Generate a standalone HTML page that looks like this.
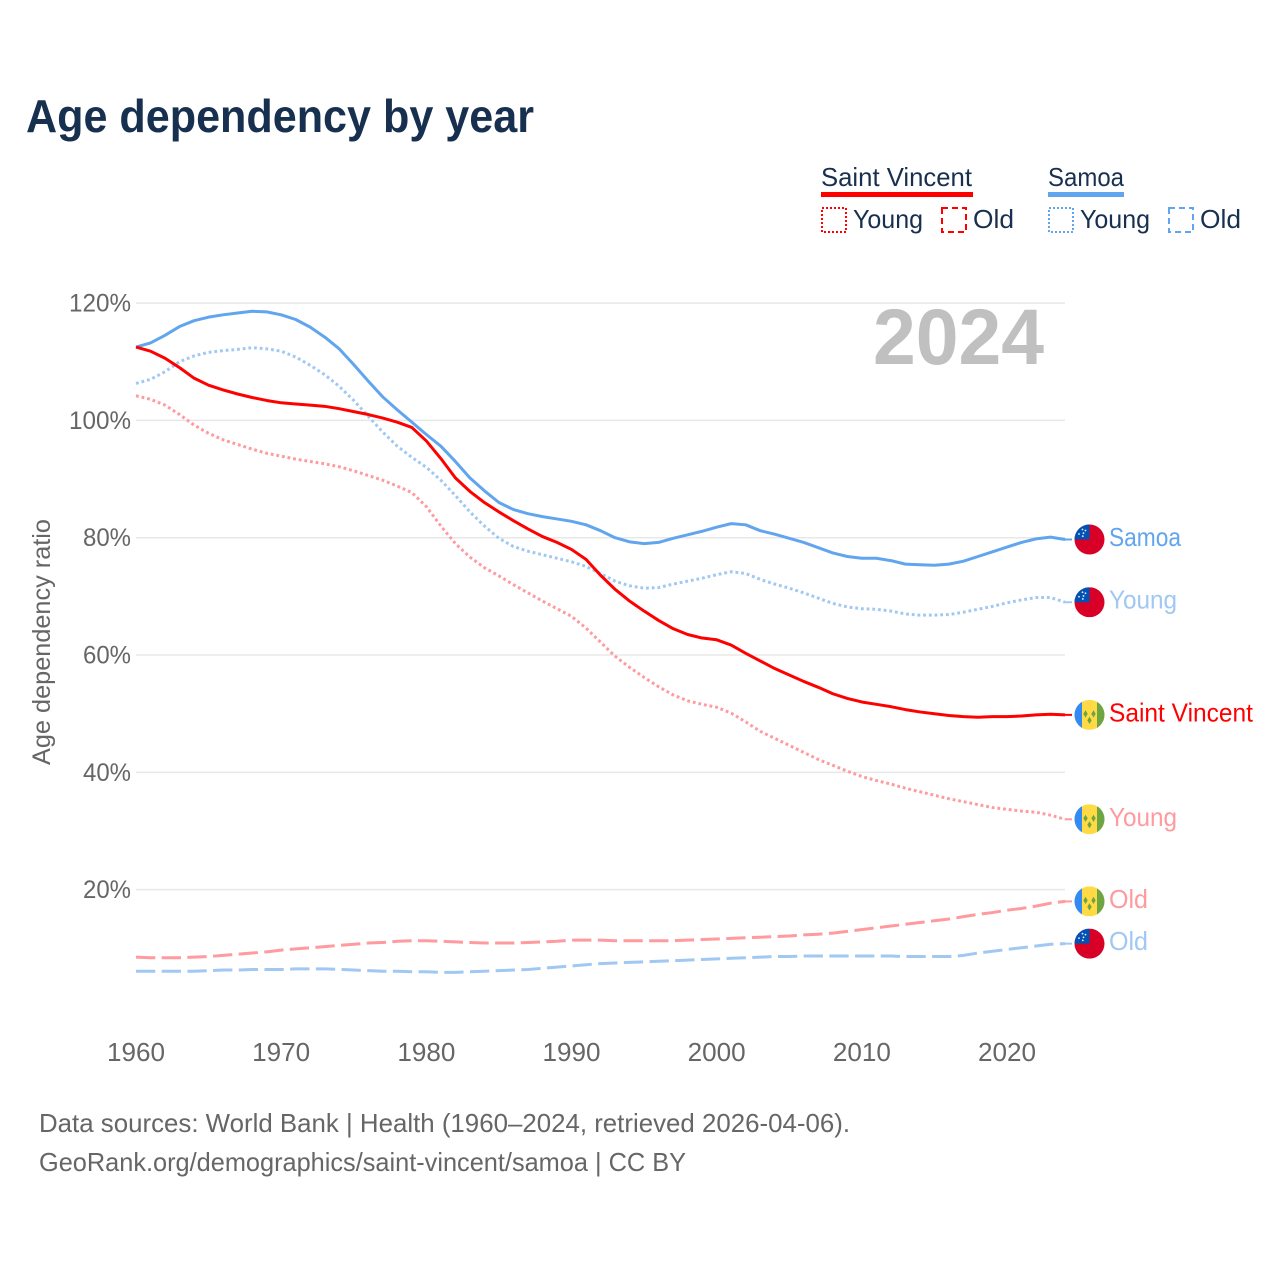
<!DOCTYPE html>
<html lang="en">
<head>
<meta charset="utf-8">
<title>Age dependency by year</title>
<style>
html,body{margin:0;padding:0;background:#fff}
svg{display:block}
text{font-family:"Liberation Sans",sans-serif}
</style>
</head>
<body>
<svg id="chart" xmlns="http://www.w3.org/2000/svg" width="1280" height="1280" viewBox="0 0 1280 1280">
  <defs>
    <clipPath id="flag-clip"><circle cx="0" cy="0" r="15"></circle></clipPath>
  </defs>
  <rect x="0" y="0" width="1280" height="1280" fill="#ffffff"></rect>
  <text x="26" y="132" font-size="46" font-weight="700" fill="#18304f" textLength="508" lengthAdjust="spacingAndGlyphs">Age dependency by year</text>

  <g>
    <g>
      <text x="821" y="186" font-size="26" fill="#18304f" textLength="151" lengthAdjust="spacingAndGlyphs">Saint Vincent</text>
      <rect x="821" y="192" width="152" height="5" fill="#ff0000"></rect>
      <rect x="822" y="208" width="24" height="24" fill="none" stroke="#ff0000" stroke-width="2" stroke-dasharray="2 2"></rect>
      <text x="853" y="228" font-size="26" fill="#18304f" textLength="70" lengthAdjust="spacingAndGlyphs">Young</text>
      <rect x="942" y="208" width="24" height="24" fill="none" stroke="#ff0000" stroke-width="2" stroke-dasharray="6 4"></rect>
      <text x="973" y="228" font-size="26" fill="#18304f" textLength="41" lengthAdjust="spacingAndGlyphs">Old</text>
    </g>
    <g>
      <text x="1048" y="186" font-size="26" fill="#18304f" textLength="76" lengthAdjust="spacingAndGlyphs">Samoa</text>
      <rect x="1048" y="192" width="76" height="5" fill="#60a5ee"></rect>
      <rect x="1049" y="208" width="24" height="24" fill="none" stroke="#60a5ee" stroke-width="2" stroke-dasharray="2 2"></rect>
      <text x="1080" y="228" font-size="26" fill="#18304f" textLength="70" lengthAdjust="spacingAndGlyphs">Young</text>
      <rect x="1169" y="208" width="24" height="24" fill="none" stroke="#60a5ee" stroke-width="2" stroke-dasharray="6 4"></rect>
      <text x="1200" y="228" font-size="26" fill="#18304f" textLength="41" lengthAdjust="spacingAndGlyphs">Old</text>
    </g>
  </g>

  <g id="grid"></g>
  <g id="y-axis"></g>
  <g id="x-axis"></g>
  <text transform="translate(50 765) rotate(-90)" x="0" y="0" font-size="25" fill="#666666" textLength="246" lengthAdjust="spacingAndGlyphs">Age dependency ratio</text>
  <text x="873" y="364" font-size="79" font-weight="700" fill="#c0c0c0" textLength="171" lengthAdjust="spacingAndGlyphs">2024</text>
  <g id="series"></g>
  <g id="end-labels"></g>

  <text x="39" y="1132" font-size="26" fill="#666666" textLength="811" lengthAdjust="spacingAndGlyphs">Data sources: World Bank | Health (1960–2024, retrieved 2026-04-06).</text>
  <text x="39" y="1171" font-size="26" fill="#666666" textLength="647" lengthAdjust="spacingAndGlyphs">GeoRank.org/demographics/saint-vincent/samoa | CC BY</text>
</svg>

<script>
const startYear = 1960;
const xTicks = [1960, 1970, 1980, 1990, 2000, 2010, 2020];
const yTicks = [20, 40, 60, 80, 100, 120];

const samoaTotal = [112.5,113.2,114.5,116.0,117.0,117.6,118.0,118.3,118.6,118.5,118.0,117.2,115.9,114.2,112.2,109.5,106.7,104.0,101.8,99.7,97.6,95.6,93.0,90.2,88.0,86.0,84.8,84.1,83.6,83.2,82.8,82.2,81.2,80.0,79.3,79.0,79.2,79.9,80.5,81.1,81.8,82.4,82.2,81.2,80.6,79.9,79.2,78.3,77.4,76.8,76.5,76.5,76.1,75.5,75.4,75.3,75.5,76.0,76.8,77.6,78.4,79.2,79.8,80.1,79.7];
const samoaYoung = [106.3,107.0,108.3,110.0,111.0,111.6,111.9,112.1,112.4,112.2,111.8,110.8,109.4,107.8,105.8,103.4,100.7,98.0,95.6,93.7,92.0,89.8,87.2,84.4,82.0,79.9,78.5,77.7,77.1,76.5,75.9,75.1,73.9,72.6,71.8,71.4,71.5,72.1,72.6,73.1,73.7,74.2,73.9,72.9,72.1,71.4,70.6,69.7,68.8,68.2,67.9,67.8,67.5,67.0,66.8,66.8,66.9,67.3,67.8,68.3,68.9,69.4,69.8,69.8,69.0];
const samoaOld = [6.1,6.1,6.1,6.1,6.1,6.2,6.3,6.3,6.4,6.4,6.4,6.5,6.5,6.5,6.4,6.3,6.2,6.1,6.1,6.0,6.0,5.9,5.9,6.0,6.1,6.2,6.3,6.4,6.6,6.8,7.0,7.2,7.4,7.5,7.6,7.7,7.8,7.9,8.0,8.1,8.2,8.3,8.4,8.5,8.6,8.6,8.7,8.7,8.7,8.7,8.7,8.7,8.7,8.6,8.6,8.6,8.6,8.8,9.2,9.5,9.8,10.1,10.4,10.7,10.8];
const vincentTotal = [112.5,111.8,110.6,109.0,107.2,106.0,105.2,104.5,103.9,103.4,103.0,102.8,102.6,102.4,102.0,101.5,101.0,100.4,99.7,98.8,96.5,93.5,90.2,87.9,86.0,84.4,82.9,81.5,80.2,79.2,78.0,76.3,73.6,71.2,69.2,67.5,65.9,64.5,63.5,62.9,62.6,61.7,60.3,59.0,57.7,56.6,55.5,54.5,53.4,52.6,52.0,51.6,51.2,50.7,50.3,50.0,49.7,49.5,49.4,49.5,49.5,49.6,49.8,49.9,49.8];
const vincentYoung = [104.2,103.6,102.6,101.0,99.2,97.8,96.7,95.9,95.1,94.4,93.9,93.4,93.0,92.6,92.1,91.4,90.6,89.8,88.8,87.7,85.3,82.0,79.0,76.7,74.9,73.5,72.0,70.6,69.2,67.9,66.6,64.6,62.2,59.8,57.9,56.2,54.6,53.2,52.2,51.6,51.1,50.1,48.6,47.0,45.8,44.6,43.4,42.2,41.2,40.2,39.3,38.6,38.0,37.3,36.7,36.1,35.5,35.0,34.5,34.0,33.7,33.4,33.2,32.7,32.0];
const vincentOld = [8.5,8.4,8.4,8.4,8.5,8.6,8.8,9.0,9.2,9.4,9.7,9.9,10.1,10.3,10.5,10.7,10.9,11.0,11.2,11.3,11.3,11.2,11.1,11.0,10.9,10.9,10.9,11.0,11.1,11.2,11.4,11.4,11.4,11.3,11.3,11.3,11.3,11.3,11.4,11.5,11.6,11.7,11.8,11.9,12.0,12.1,12.3,12.4,12.6,12.9,13.2,13.5,13.8,14.1,14.4,14.7,15.0,15.4,15.8,16.1,16.5,16.8,17.2,17.7,18.0];

const NS = 'http://www.w3.org/2000/svg';
function xScale(year) { return 136 + (year - 1960) * (1007 - 136) / 60; }
function yScale(pct) { return 1007 - pct * 5.866; }
function make(tag, parent, attrs, content) {
  const el = document.createElementNS(NS, tag);
  for (const k in attrs) el.setAttribute(k, attrs[k]);
  if (content !== undefined) el.textContent = content;
  parent.appendChild(el);
  return el;
}

const grid = document.getElementById('grid');
const yAxis = document.getElementById('y-axis');
const xAxis = document.getElementById('x-axis');
const seriesLayer = document.getElementById('series');
const endLayer = document.getElementById('end-labels');

yTicks.forEach(function (t) {
  const y = yScale(t);
  const line = make('line', grid, {x1: 136, x2: 1065, y1: y, y2: y, stroke: '#e8e8e8', 'stroke-width': 1.5});
  
  
  const w = t >= 100 ? 62 : 48;
  const label = make('text', yAxis, {x: 131 - w, y: y + 8.5, 'font-size': 25, fill: '#666666', textLength: w, lengthAdjust: 'spacingAndGlyphs'}, t + '%');
  
  
});

xTicks.forEach(function (t) {
  const label = make('text', xAxis, {x: xScale(t) - 29, y: 1061, 'font-size': 26, fill: '#666666', textLength: 58, lengthAdjust: 'spacingAndGlyphs'}, String(t));
  
  
});

function drawLine(values, name, color, width, dash) {
  const pts = values.map(function (v, i) {
    return xScale(startYear + i).toFixed(2) + ',' + yScale(v).toFixed(2);
  }).join(' ');
  const attrs = {points: pts, fill: 'none', stroke: color, 'stroke-width': width, 'stroke-linejoin': 'round'};
  if (dash) attrs['stroke-dasharray'] = dash;
  const line = make('polyline', seriesLayer, attrs);
  
  
}

const BLUE = '#60a5ee', LBLUE = '#a0c8f2', RED = '#ff0000', LRED = '#ff9a9e';
drawLine(samoaOld, 'line-samoa-old', LBLUE, 3, '19.3 6.4');
drawLine(vincentOld, 'line-saint-vincent-old', LRED, 3, '19.3 6.4');
drawLine(vincentYoung, 'line-saint-vincent-young', LRED, 3, '2.8 2.9');
drawLine(samoaYoung, 'line-samoa-young', LBLUE, 3, '2.8 2.9');
drawLine(samoaTotal, 'line-samoa-total', BLUE, 3);
drawLine(vincentTotal, 'line-saint-vincent-total', RED, 3);

function drawSamoaFlag(g) {
  const clip = make('g', g, {'clip-path': 'url(#flag-clip)'});
  make('rect', clip, {x: -15, y: -15, width: 30, height: 30, fill: '#d80027'});
  make('rect', clip, {x: -15, y: -15, width: 15, height: 15, fill: '#0052b4'});
  [[-7, -10], [-4, -9], [-10.5, -5.5], [-6, -6.3], [-6.7, -3.3]].forEach(function (s) {
    make('circle', clip, {cx: s[0], cy: s[1], r: 0.9, fill: '#f0f0f0'});
  });
}
function drawVincentFlag(g) {
  const clip = make('g', g, {'clip-path': 'url(#flag-clip)'});
  make('rect', clip, {x: -15, y: -15, width: 30, height: 30, fill: '#ffda44'});
  make('rect', clip, {x: -15, y: -15, width: 7.5, height: 30, fill: '#338af3'});
  make('rect', clip, {x: 7.5, y: -15, width: 7.5, height: 30, fill: '#6da544'});
  [[-4, -1], [4, -1], [0, 5.5]].forEach(function (d) {
    make('polygon', clip, {points: d[0] + ',' + (d[1] - 3.6) + ' ' + (d[0] + 2.2) + ',' + d[1] + ' ' + d[0] + ',' + (d[1] + 3.6) + ' ' + (d[0] - 2.2) + ',' + d[1], fill: '#6da544'});
  });
}

function drawEnd(values, key, text, textWidth, color, thickness, drawFlag) {
  const y = yScale(values[values.length - 1]);
  const stub = make('line', endLayer, {x1: 1065, x2: 1072, y1: y, y2: y, stroke: color, 'stroke-width': thickness});
  
  
  const flag = make('g', endLayer, {transform: 'translate(1089.5 ' + y.toFixed(2) + ')'});
  
  
  drawFlag(flag);
  const label = make('text', endLayer, {x: 1109, y: y + 6.5, 'font-size': 26, fill: color, textLength: textWidth, lengthAdjust: 'spacingAndGlyphs'}, text);
  
  
}

drawEnd(samoaTotal, 'samoa-total', 'Samoa', 72, BLUE, 2, drawSamoaFlag);
drawEnd(samoaYoung, 'samoa-young', 'Young', 68, LBLUE, 2, drawSamoaFlag);
drawEnd(vincentTotal, 'saint-vincent-total', 'Saint Vincent', 144, RED, 2, drawVincentFlag);
drawEnd(vincentYoung, 'saint-vincent-young', 'Young', 68, LRED, 2, drawVincentFlag);
drawEnd(vincentOld, 'saint-vincent-old', 'Old', 39, LRED, 2, drawVincentFlag);
drawEnd(samoaOld, 'samoa-old', 'Old', 39, LBLUE, 2, drawSamoaFlag);
</script>
</body>
</html>
